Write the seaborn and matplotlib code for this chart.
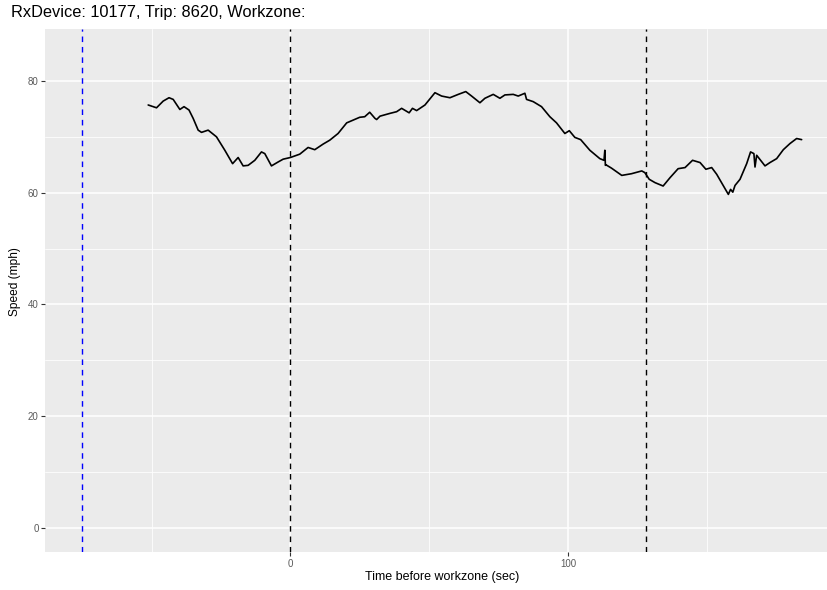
import matplotlib
matplotlib.use("Agg")
import matplotlib.pyplot as plt
import seaborn as sns
import pandas as pd
from matplotlib.ticker import MultipleLocator

# Speed trace around the work zone (seconds relative to work-zone entry, mph)
time_sec = [
    -51.2, -48.2, -45.8, -43.7, -42.2, -39.8, -38.3, -36.5, -35.0, -33.2,
    -32.0, -29.6, -26.6, -23.6, -20.8, -18.8, -17.0, -15.2, -12.8, -10.4,
    -9.2, -6.8, -4.4, -2.6, 0.0, 3.4, 6.4, 8.8, 11.8, 14.2,
    17.2, 20.3, 25.0, 26.8, 28.6, 30.5, 31.1, 32.3, 35.9, 38.3,
    40.1, 42.8, 44.0, 45.5, 48.5, 52.1, 54.5, 57.5, 60.5, 63.2,
    65.3, 68.3, 70.1, 73.1, 75.5, 77.3, 80.3, 82.1, 84.5, 85.1,
    87.5, 90.5, 93.5, 95.9, 98.9, 100.5, 102.5, 104.6, 107.9, 111.5,
    113.0, 113.3, 113.5, 113.7, 115.7, 119.4, 122.9, 126.6, 127.7, 129.3,
    131.4, 134.3, 136.8, 139.7, 142.2, 144.9, 147.6, 149.7, 151.8, 153.6,
    157.8, 158.6, 159.4, 160.2, 162.0, 164.4, 165.8, 167.0, 167.4, 168.0,
    171.0, 172.8, 175.2, 177.6, 180.0, 182.4, 184.2,
]
speed_mph = [
    75.7, 75.2, 76.4, 77.0, 76.7, 74.9, 75.4, 74.8, 73.3, 71.2,
    70.8, 71.2, 70.0, 67.6, 65.2, 66.3, 64.8, 64.9, 65.8, 67.3,
    67.0, 64.8, 65.5, 66.0, 66.3, 66.9, 68.1, 67.7, 68.7, 69.4,
    70.6, 72.5, 73.5, 73.6, 74.4, 73.3, 73.1, 73.7, 74.2, 74.5,
    75.1, 74.3, 75.1, 74.7, 75.7, 77.9, 77.3, 77.0, 77.6, 78.1,
    77.3, 76.1, 76.9, 77.6, 76.9, 77.5, 77.6, 77.3, 77.8, 76.7,
    76.3, 75.4, 73.6, 72.5, 70.6, 71.1, 69.9, 69.5, 67.6, 66.1,
    65.8, 67.6, 64.9, 65.0, 64.4, 63.1, 63.4, 63.9, 63.6, 62.4,
    61.8, 61.2, 62.7, 64.3, 64.5, 65.8, 65.4, 64.2, 64.5, 63.3,
    59.7, 60.6, 60.1, 61.3, 62.4, 65.2, 67.3, 67.0, 64.6, 66.7,
    64.8, 65.4, 66.1, 67.7, 68.8, 69.7, 69.5,
]

# Reference markers: upstream point (blue) and work-zone start/end (black)
upstream_sec = -75.2
zone_marks_sec = [0.0, 128.1]

title_text = "RxDevice: 10177, Trip: 8620, Workzone:"
x_label = "Time before workzone (sec)"
y_label = "Speed (mph)"

df = pd.DataFrame({"time": time_sec, "speed": speed_mph})

sns.set_theme(style="darkgrid", rc={
    "axes.facecolor": "#EBEBEB",
    "grid.color": "white",
    "axes.edgecolor": "#EBEBEB",
})
plt.rcParams["font.family"] = ["Liberation Sans", "DejaVu Sans"]

W, H = 828, 590
fig = plt.figure(figsize=(W / 100, H / 100), dpi=100)
left_px, right_px, top_px, bottom_px = 45.5, 838.0, 29.0, 552.0
ax = fig.add_axes([left_px / W, 1 - bottom_px / H,
                   (right_px - left_px) / W, (bottom_px - top_px) / H])

for s in ax.spines.values():
    s.set_visible(False)

ax.set_xlim(-88.2, 197.3)
ax.set_ylim(-4.3, 89.3)

ax.xaxis.set_major_locator(MultipleLocator(100))
ax.xaxis.set_minor_locator(MultipleLocator(50))
ax.yaxis.set_major_locator(MultipleLocator(20))
ax.yaxis.set_minor_locator(MultipleLocator(10))
ax.grid(which="major", color="white", linewidth=1.1)
ax.grid(which="minor", color="white", linewidth=0.55)
ax.set_axisbelow(True)

ax.tick_params(axis="both", which="major", length=3, width=0.8, color="#333333",
               labelsize=7, labelcolor="#5a5a5a", pad=2,
               bottom=True, left=True)
ax.tick_params(axis="both", which="minor", length=0)

sns.lineplot(data=df, x="time", y="speed", ax=ax, color="black",
             linewidth=1.2, estimator=None, sort=False)

ax.axvline(upstream_sec, color="blue", linestyle=(0, (4, 3.5)), linewidth=1.0)
for xv in zone_marks_sec:
    ax.axvline(xv, color="black", linestyle=(0, (4, 3.5)), linewidth=1.0)

ax.set_xlabel("")
ax.set_ylabel("")
fig.text(442 / W, 1 - 577 / H, x_label, ha="center", va="center",
         fontsize=9.0, color="black")
fig.text(15 / W, 1 - 282 / H, y_label, ha="center", va="center",
         rotation=90, fontsize=8.6, color="black")
fig.text(11 / W, 1 - 13 / H, title_text, ha="left", va="center",
         fontsize=11.8, color="black")

fig.savefig("out.png", dpi=100)
